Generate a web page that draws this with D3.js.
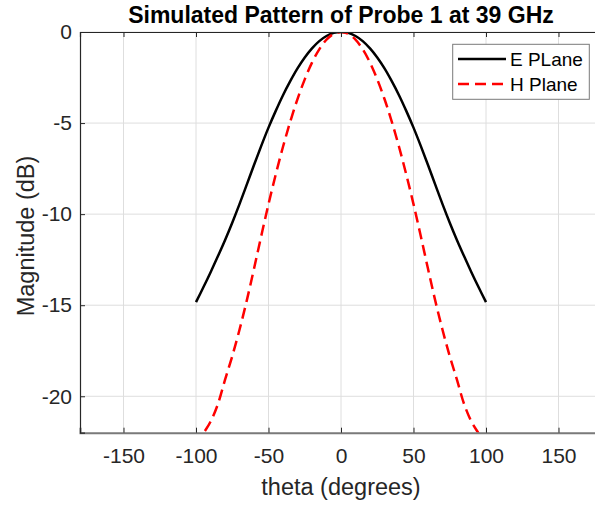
<!DOCTYPE html>
<html>
<head>
<meta charset="utf-8">
<script src="https://cdn.jsdelivr.net/npm/d3@7"></script>
<style>
  body { margin: 0; background: #fff; }
  svg { font-family: "Liberation Sans", Arial, Helvetica, sans-serif; }
</style>
</head>
<body>
<svg id="chart" width="595" height="505"></svg>
<script>
// angles in degrees, 5 degree steps
let theta = d3.range(-100, 101, 5)

// half patterns from 0 to 100 deg, mirrored below
let eHalf = [0, -0.05, -0.22, -0.5, -0.9, -1.4, -2.0, -2.7, -3.47, -4.33, -5.25,
             -6.25, -7.3, -8.38, -9.45, -10.47, -11.43, -12.33, -13.2, -14.03, -14.83]
let hHalf = [0, -0.1, -0.42, -0.95, -1.68, -2.6, -3.68, -4.92, -6.3, -7.82, -9.45,
             -11.2, -13.0, -14.75, -16.35, -17.8, -19.1, -20.45, -21.4, -22.05, -22.7]

let ePlane = eHalf.slice(1).reverse().concat(eHalf)
let hPlane = hHalf.slice(1).reverse().concat(hHalf)

let xTicks = [-150, -100, -50, 0, 50, 100, 150]
let yTicks = [0, -5, -10, -15, -20]

let svg = d3.select("#chart")
let padL = 80, padR = 602, padT = 32, padB = 432.7

let x = d3.scaleLinear().domain([-180, 180]).range([padL, padR])
let y = d3.scaleLinear().domain([-22, 0]).range([padB, padT])

let axisColor = "#262626"

// grid
let grid = svg.append("g")
grid.selectAll("line.vx").data(xTicks).enter().append("line")
    .attr("x1", d => x(d)).attr("x2", d => x(d))
    .attr("y1", padT).attr("y2", padB)
    .attr("stroke", "#dedede").attr("stroke-width", 1)
grid.selectAll("line.hy").data(yTicks).enter().append("line")
    .attr("x1", padL).attr("x2", padR)
    .attr("y1", d => y(d)).attr("y2", d => y(d))
    .attr("stroke", "#dedede").attr("stroke-width", 1)

svg.append("clipPath").attr("id", "clip")
    .append("rect").attr("x", padL).attr("y", padT)
    .attr("width", padR - padL).attr("height", padB - padT)

let line = d3.line().curve(d3.curveCatmullRom)

let plot = svg.append("g").attr("clip-path", "url(#clip)")
plot.append("path")
    .attr("d", line(theta.map((t, i) => [x(t), y(ePlane[i])])))
    .attr("fill", "none").attr("stroke", "#000").attr("stroke-width", 2.5)
plot.append("path")
    .attr("d", line(theta.map((t, i) => [x(t), y(hPlane[i])])))
    .attr("fill", "none").attr("stroke", "#ff0000").attr("stroke-width", 2.5)
    .attr("stroke-dasharray", "11,6")

// axes (ticks inward, box on), plain hyphen minus like matlab
let fmt = d => String(d)
let xAxis = d3.axisBottom(x).tickValues(xTicks).tickSize(-5).tickPadding(15).tickFormat(fmt)
let gx = svg.append("g").attr("transform", "translate(0," + padB + ")").call(xAxis)
let gxTop = svg.append("g").attr("transform", "translate(0," + padT + ")")
    .call(d3.axisTop(x).tickValues(xTicks).tickSize(-5).tickFormat(""))
let yAxis = d3.axisLeft(y).tickValues(yTicks).tickSize(-5).tickPadding(8).tickFormat(fmt)
let gy = svg.append("g").attr("transform", "translate(" + padL + ",0)").call(yAxis)

;[gx, gxTop, gy].forEach(g => {
    g.select(".domain").attr("stroke", axisColor).attr("stroke-width", 1.2)
    g.selectAll(".tick line").attr("stroke", axisColor)
    g.selectAll("text").attr("fill", axisColor).style("font-size", "21px")
        .style("font-family", "'Liberation Sans', Arial, sans-serif")
})
gx.select(".domain").attr("stroke", "#7a7a7a").attr("stroke-width", 2)

// labels
svg.append("text").attr("x", (padL + padR) / 2).attr("y", 23)
    .attr("text-anchor", "middle").style("font-size", "23px").style("font-weight", "bold")
    .attr("fill", "#000").text("Simulated Pattern of Probe 1 at 39 GHz")
svg.append("text").attr("x", (padL + padR) / 2).attr("y", 495)
    .attr("text-anchor", "middle").style("font-size", "23.5px")
    .attr("fill", axisColor).text("theta (degrees)")
svg.append("text").attr("transform", "translate(33.5,236) rotate(-90)")
    .attr("text-anchor", "middle").style("font-size", "23.5px")
    .attr("fill", axisColor).text("Magnitude (dB)")

// legend
let lg = svg.append("g")
lg.append("rect").attr("x", 452.7).attr("y", 44.3).attr("width", 136.6).attr("height", 55)
    .attr("fill", "#fff").attr("stroke", "#7a7a7a").attr("stroke-width", 1)
let entries = [
    {name: "E PLane", color: "#000", dash: null},
    {name: "H Plane", color: "#ff0000", dash: "11,6"}
]
entries.forEach((e, i) => {
    let yy = 59 + i * 25
    lg.append("line").attr("x1", 458).attr("x2", 506).attr("y1", yy).attr("y2", yy)
        .attr("stroke", e.color).attr("stroke-width", 2.5)
        .attr("stroke-dasharray", e.dash)
    lg.append("text").attr("x", 510).attr("y", yy + 7)
        .style("font-size", "19px").attr("fill", "#000").text(e.name)
})
</script>
</body>
</html>
